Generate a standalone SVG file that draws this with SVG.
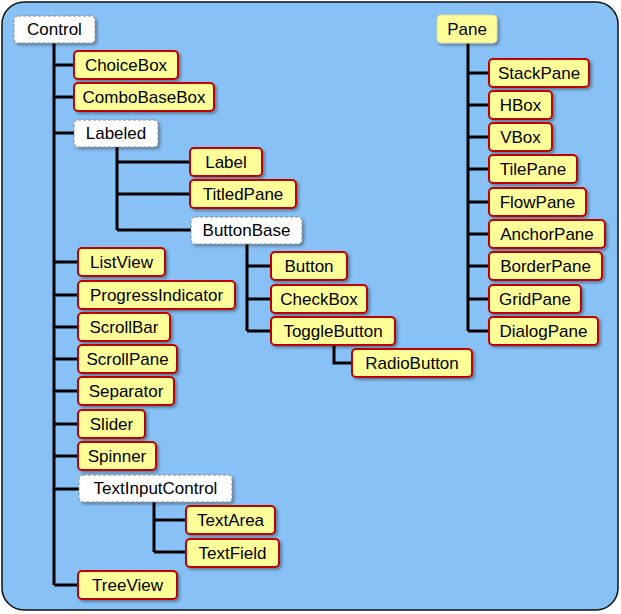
<svg xmlns="http://www.w3.org/2000/svg" width="621" height="614" viewBox="0 0 621 614">
<defs>
<filter id="sh" x="-20%" y="-20%" width="140%" height="160%">
<feDropShadow dx="2" dy="2" stdDeviation="1.5" flood-color="#000" flood-opacity="0.35"/>
</filter>
<style>
.bg{fill:#88C1F5;stroke:#111;stroke-width:1.5}
.n rect{fill:#FFFF99;stroke:#C00000;stroke-width:2;filter:url(#sh)}
.a rect{fill:#fff;stroke:#888;stroke-width:1;stroke-dasharray:3,2;filter:url(#sh)}
.p rect{fill:#FFFF99;stroke:#D8D8A0;stroke-width:1;filter:url(#sh)}
text{font-family:"Liberation Sans",Arial,sans-serif;font-size:17px;fill:#000;text-anchor:middle;dominant-baseline:central}
#conn path{fill:none;stroke:#000;stroke-width:3}
</style>
</defs>
<rect class="bg" x="2" y="2" width="616" height="608" rx="22"/>
<g id="conn">
<path d="M54,43V585M54,65H74M54,97H74M54,133H74M54,262H78M54,295H78M54,327H78M54,359H78M54,391H78M54,424H78M54,456H78M54,489H79M54,585H78"/>
<path d="M117,147V230M117,162H190M117,194H190M117,230H191"/>
<path d="M247,244V331M247,266H271M247,299H271M247,331H271"/>
<path d="M334,345V363H352"/>
<path d="M154,502V552M154,520H186M154,552H186"/>
<path d="M468,43V331M468,73H489M468,105H489M468,137H489M468,169H489M468,202H489M468,234H489M468,266H489M468,299H489M468,331H489"/>
</g>
<g id="Control" class="a"><rect x="14" y="16" width="81" height="27" rx="4"/><text x="54.5" y="29.5">Control</text></g>
<g id="ChoiceBox" class="n"><rect x="74" y="51" width="104" height="28" rx="4"/><text x="126" y="65">ChoiceBox</text></g>
<g id="ComboBaseBox" class="n"><rect x="74" y="83" width="140" height="28" rx="4"/><text x="144" y="97">ComboBaseBox</text></g>
<g id="Labeled" class="a"><rect x="74" y="120" width="84" height="27" rx="4"/><text x="116" y="133.5">Labeled</text></g>
<g id="Label" class="n"><rect x="190" y="148" width="72" height="28" rx="4"/><text x="226" y="162">Label</text></g>
<g id="TitledPane" class="n"><rect x="190" y="180" width="106" height="28" rx="4"/><text x="243" y="194">TitledPane</text></g>
<g id="ButtonBase" class="a"><rect x="191" y="217" width="111" height="27" rx="4"/><text x="246.5" y="230.5">ButtonBase</text></g>
<g id="Button" class="n"><rect x="271" y="252" width="76" height="28" rx="4"/><text x="309" y="266">Button</text></g>
<g id="CheckBox" class="n"><rect x="271" y="285" width="96" height="28" rx="4"/><text x="319" y="299">CheckBox</text></g>
<g id="ToggleButton" class="n"><rect x="271" y="317" width="124" height="28" rx="4"/><text x="333" y="331">ToggleButton</text></g>
<g id="RadioButton" class="n"><rect x="352" y="349" width="120" height="28" rx="4"/><text x="412" y="363">RadioButton</text></g>
<g id="ListView" class="n"><rect x="78" y="248" width="87" height="28" rx="4"/><text x="121.5" y="262">ListView</text></g>
<g id="ProgressIndicator" class="n"><rect x="78" y="281" width="157" height="28" rx="4"/><text x="156.5" y="295">ProgressIndicator</text></g>
<g id="ScrollBar" class="n"><rect x="78" y="313" width="92" height="28" rx="4"/><text x="124" y="327">ScrollBar</text></g>
<g id="ScrollPane" class="n"><rect x="78" y="345" width="99" height="28" rx="4"/><text x="127.5" y="359">ScrollPane</text></g>
<g id="Separator" class="n"><rect x="78" y="377" width="96" height="28" rx="4"/><text x="126" y="391">Separator</text></g>
<g id="Slider" class="n"><rect x="78" y="410" width="67" height="28" rx="4"/><text x="111.5" y="424">Slider</text></g>
<g id="Spinner" class="n"><rect x="78" y="442" width="78" height="28" rx="4"/><text x="117" y="456">Spinner</text></g>
<g id="TextInputControl" class="a"><rect x="79" y="475" width="153" height="27" rx="4"/><text x="155.5" y="488.5">TextInputControl</text></g>
<g id="TextArea" class="n"><rect x="186" y="506" width="89" height="28" rx="4"/><text x="230.5" y="520">TextArea</text></g>
<g id="TextField" class="n"><rect x="186" y="539" width="93" height="28" rx="4"/><text x="232.5" y="553">TextField</text></g>
<g id="TreeView" class="n"><rect x="78" y="571" width="99" height="28" rx="4"/><text x="127.5" y="585">TreeView</text></g>
<g id="Pane" class="p"><rect x="437" y="15" width="60" height="28" rx="4"/><text x="467" y="29">Pane</text></g>
<g id="StackPane" class="n"><rect x="489" y="59" width="100" height="28" rx="4"/><text x="539" y="73">StackPane</text></g>
<g id="HBox" class="n"><rect x="489" y="91" width="63" height="28" rx="4"/><text x="520.5" y="105">HBox</text></g>
<g id="VBox" class="n"><rect x="489" y="123" width="63" height="28" rx="4"/><text x="520.5" y="137">VBox</text></g>
<g id="TilePane" class="n"><rect x="489" y="155" width="88" height="28" rx="4"/><text x="533" y="169">TilePane</text></g>
<g id="FlowPane" class="n"><rect x="489" y="188" width="97" height="28" rx="4"/><text x="537.5" y="202">FlowPane</text></g>
<g id="AnchorPane" class="n"><rect x="489" y="220" width="116" height="28" rx="4"/><text x="547" y="234">AnchorPane</text></g>
<g id="BorderPane" class="n"><rect x="489" y="252" width="113" height="28" rx="4"/><text x="545.5" y="266">BorderPane</text></g>
<g id="GridPane" class="n"><rect x="489" y="285" width="92" height="28" rx="4"/><text x="535" y="299">GridPane</text></g>
<g id="DialogPane" class="n"><rect x="489" y="317" width="109" height="28" rx="4"/><text x="543.5" y="331">DialogPane</text></g>
</svg>
